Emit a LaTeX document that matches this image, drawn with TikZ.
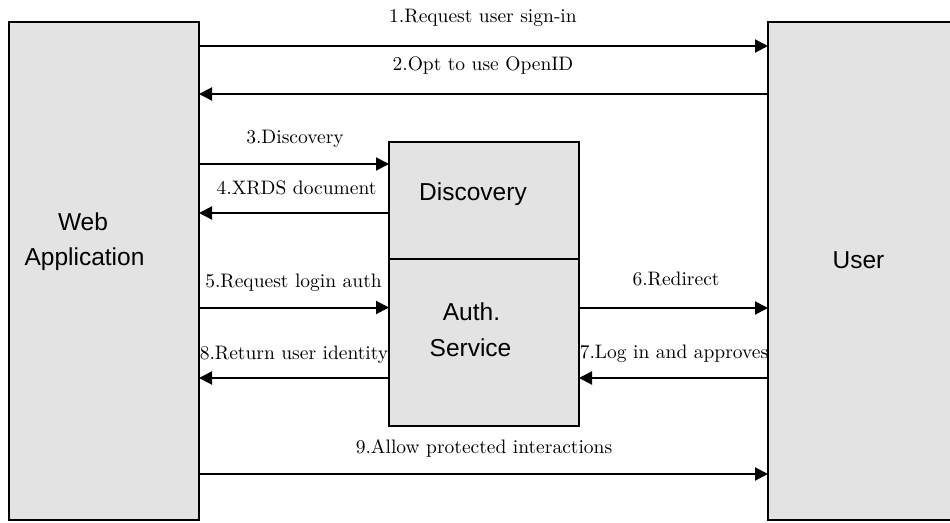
\documentclass[tikz,border=0pt]{standalone}
\usepackage{fontspec}
\newfontfamily\boxfont{Liberation Sans}
\newfontfamily\labfont{lmroman10-regular}[Extension=.otf]
\usetikzlibrary{arrows.meta}
\definecolor{boxfill}{RGB}{227,227,227}
\begin{document}
\begin{tikzpicture}[x=1pt,y=-1pt,
  actor/.style={rectangle,draw,line width=2pt,fill=boxfill,inner sep=0pt,outer sep=0pt},
  msg/.style={line width=2pt,-{Triangle[length=13pt,width=13pt]}},
  lab/.style={anchor=base,inner sep=0pt,font=\labfont\fontsize{19.5}{22}\selectfont},
  title/.style={anchor=base,inner sep=0pt,font=\boxfont\fontsize{24.5}{28}\selectfont}]
\useasboundingbox (0,0) rectangle (950,522);

% participants
\node[actor,minimum width=190pt,minimum height=498pt] (web) at (104,271) {};
\node[actor,minimum width=194pt,minimum height=498pt] (user) at (865,271) {};
\node[actor,minimum width=190pt,minimum height=117pt] (disc) at (484,200.5) {};
\node[actor,minimum width=190pt,minimum height=167pt] (auth) at (484,342.5) {};

% participant names
\node[title] (webA) at (83,230) {Web};
\node[title] (webB) at (84.5,265) {Application};
\node[title] (userT) at (858.5,268) {User};
\node[title] (discT) at (473,200) {Discovery};
\node[title] (authA) at (471.5,320) {Auth.};
\node[title] (authB) at (470.5,356.7) {Service};

% message rows
\coordinate (r1) at (0,46);
\coordinate (r2) at (0,94);
\coordinate (r3) at (0,164);
\coordinate (r4) at (0,213);
\coordinate (r5) at (0,307.5);
\coordinate (r6) at (0,308);
\coordinate (r7) at (0,378);
\coordinate (r8) at (0,378);
\coordinate (r9) at (0,474);

% messages
\draw[msg] (web.east |- r1) -- (user.west |- r1);
\draw[msg] (user.west |- r2) -- (web.east |- r2);
\draw[msg] (web.east |- r3) -- (disc.west |- r3);
\draw[msg] (disc.west |- r4) -- (web.east |- r4);
\draw[msg] (web.east |- r5) -- (auth.west |- r5);
\draw[msg] (auth.east |- r6) -- (user.west |- r6);
\draw[msg] (user.west |- r7) -- (auth.east |- r7);
\draw[msg] (auth.west |- r8) -- (web.east |- r8);
\draw[msg] (web.east |- r9) -- (user.west |- r9);

% message labels
\node[lab] (m1) at (483,22) {1.Request user sign-in};
\node[lab] (m2) at (483,70) {2.Opt to use OpenID};
\node[lab] (m3) at (295,143) {3.Discovery};
\node[lab] (m4) at (296.5,194) {4.XRDS document};
\node[lab] (m5) at (293.5,287) {5.Request login auth};
\node[lab] (m6) at (676,285) {6.Redirect};
\node[lab] (m7) at (674,358) {7.Log in and approves};
\node[lab] (m8) at (294,359) {8.Return user identity};
\node[lab] (m9) at (484,453) {9.Allow protected interactions};
\end{tikzpicture}
\end{document}
